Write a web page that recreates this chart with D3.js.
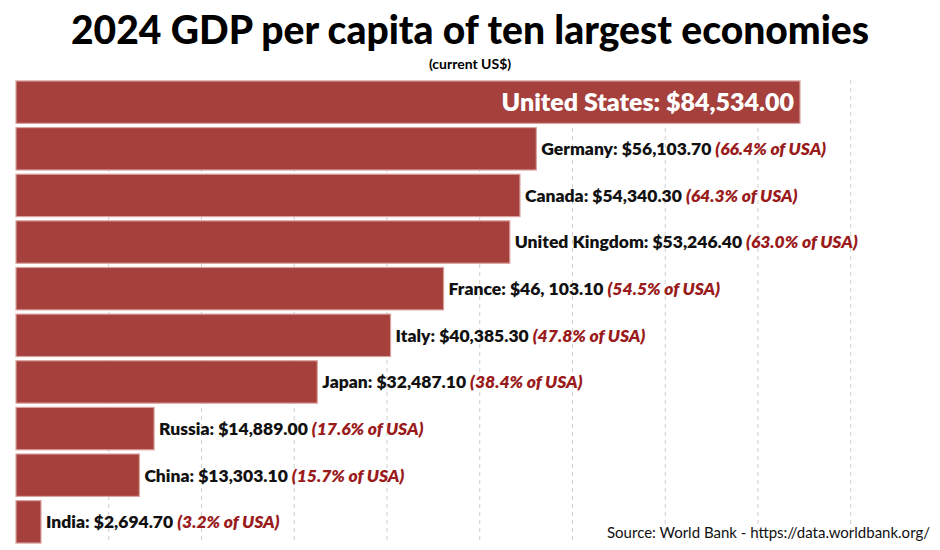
<!DOCTYPE html>
<html><head><meta charset="utf-8">
<script src="https://cdn.jsdelivr.net/npm/d3@7"></script>
<style>body{margin:0;background:#fff}svg{display:block}</style>
</head><body>
<svg id="c" width="940" height="550"></svg>
<script>
const countries=["United States","Germany","Canada","United Kingdom","France","Italy","Japan","Russia","China","India"];
const values=[84534.00,56103.70,54340.30,53246.40,46103.10,40385.30,32487.10,14889.00,13303.10,2694.70];
const valueLabels=["$84,534.00","$56,103.70","$54,340.30","$53,246.40","$46, 103.10","$40,385.30","$32,487.10","$14,889.00","$13,303.10","$2,694.70"];
const pctLabels=["","(66.4% of USA)","(64.3% of USA)","(63.0% of USA)","(54.5% of USA)","(47.8% of USA)","(38.4% of USA)","(17.6% of USA)","(15.7% of USA)","(3.2% of USA)"];
const gridTicks=[10000,20000,30000,40000,50000,60000,70000,80000,90000];

const svg=d3.select("#c");
const font="Lato, 'Open Sans', sans-serif";
const x=d3.scaleLinear().domain([0,84534]).range([16,800]);
const y=d3.scaleBand().domain(countries).range([80,544]).paddingInner(0.09).paddingOuter(0.02);

svg.append("text").attr("x",470).attr("y",44).attr("text-anchor","middle")
 .attr("font-family",font).attr("font-weight",900).attr("font-size",39).attr("fill","#000")
 .text("2024 GDP per capita of ten largest economies");
svg.append("text").attr("x",470).attr("y",69).attr("text-anchor","middle")
 .attr("font-family",font).attr("font-weight",700).attr("font-size",14).attr("fill","#000")
 .text("(current US$)");

svg.append("g").selectAll("line").data(gridTicks).join("line")
 .attr("x1",d=>x(d)).attr("x2",d=>x(d)).attr("y1",80).attr("y2",542)
 .attr("stroke","#cfcfcf").attr("stroke-width",1).attr("stroke-dasharray","4,4");

svg.append("g").selectAll("rect").data(values).join("rect")
 .attr("x",x(0)).attr("y",(d,i)=>y(countries[i]))
 .attr("width",d=>x(d)-x(0)).attr("height",y.bandwidth())
 .attr("fill","#a5403c").attr("stroke","#dba3a0").attr("stroke-width",1.2);

const g=svg.append("g");
values.forEach((v,i)=>{
 const cy=y(countries[i])+y.bandwidth()/2;
 if(i===0){
  g.append("text").attr("x",x(v)-6).attr("y",cy).attr("dy","0.36em").attr("text-anchor","end")
   .attr("font-family",font).attr("font-weight",800).attr("font-size",25).attr("fill","#fff")
   .text(countries[i]+": "+valueLabels[i]);
 } else {
  const t=g.append("text").attr("x",x(v)+5).attr("y",cy).attr("dy","0.36em")
   .attr("font-family",font).attr("font-weight",800).attr("font-size",17.5);
  t.append("tspan").attr("fill","#111").text(countries[i]+": "+valueLabels[i]+" ");
  t.append("tspan").attr("fill","#9a1b1b").attr("font-style","italic").text(pctLabels[i]);
 }
});

svg.append("text").attr("x",930).attr("y",538).attr("text-anchor","end")
 .attr("font-family",font).attr("font-size",15).attr("fill","#111")
 .text("Source: World Bank - https://data.worldbank.org/");
</script>
</body></html>
